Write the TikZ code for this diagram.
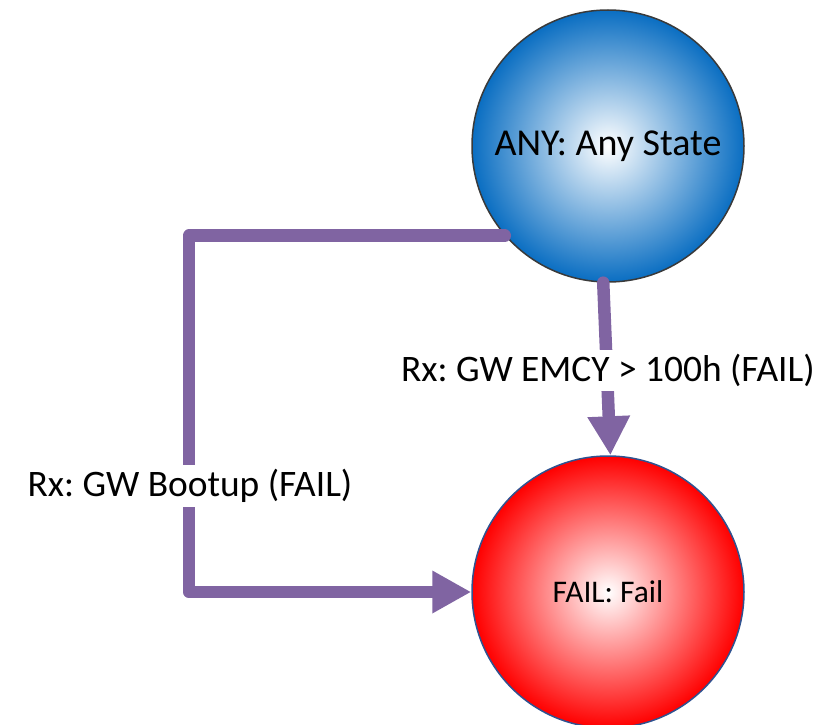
\documentclass[tikz,border=0pt]{standalone}
\usepackage{fontspec}
\setmainfont{Carlito}
\frenchspacing
\usetikzlibrary{arrows.meta}
\definecolor{connpurple}{HTML}{8064A2}
\definecolor{anyblue}{HTML}{0A6EC2}
\definecolor{anyedge}{HTML}{3A3A3A}
\definecolor{failred}{HTML}{FF0000}
\definecolor{failedge}{HTML}{2F5290}
\tikzset{
  statenode/.style={circle, minimum size=272pt, inner sep=0pt, line width=1.5pt},
  anystate/.style={statenode, draw=anyedge, inner color=white, outer color=anyblue,
    font=\fontsize{38}{42}\selectfont},
  failstate/.style={statenode, draw=failedge, inner color=white, outer color=failred,
    font=\fontsize{31.5}{36}\selectfont},
  connline/.style={draw=connpurple, line width=12.5pt, line cap=round, line join=round,
    -{Triangle[width=40pt,length=39pt]}},
  lbl/.style={fill=white, inner xsep=3pt, inner ysep=4pt, font=\fontsize{37.4}{42}\selectfont}
}
\begin{document}
\begin{tikzpicture}[x=1pt,y=-1pt]
\useasboundingbox (0,0) rectangle (823,725);
\node[anystate] (any) at (608,146) {ANY: Any State};
\node[failstate] (fail) at (608,592) {FAIL: Fail};
\coordinate (bend) at (189,486);
\draw[connline] (any.221.4) -| (bend) |- (fail.west);
\node[lbl] (bootlbl) at ([xshift=1pt]bend) {Rx: GW Bootup (FAIL)};
\draw[connline] (any.268.7) -- node[lbl, pos=0.51, xshift=1pt] (emcylbl) {Rx: GW EMCY > 100h (FAIL)} (fail.89);
\end{tikzpicture}
\end{document}
